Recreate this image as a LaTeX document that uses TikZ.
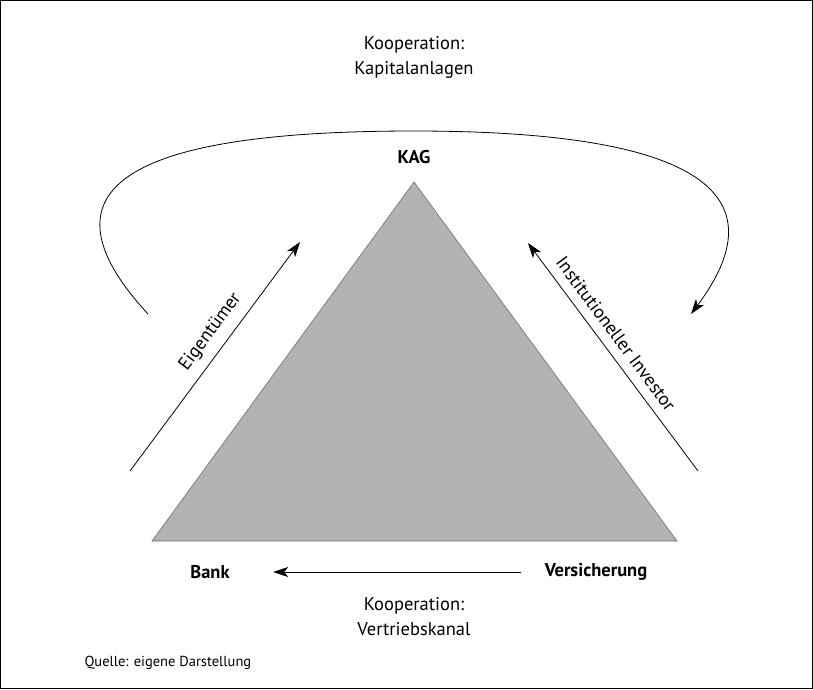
\documentclass[tikz,border=0pt]{standalone}
\usepackage{fontspec}
\setmainfont{PT Sans}
\usetikzlibrary{arrows.meta,positioning}

\definecolor{triGray}{HTML}{B3B3B3}
\definecolor{triEdge}{HTML}{6E6E6E}

\begin{document}
\begin{tikzpicture}[x=1pt,y=-1pt]
  \tikzset{
    kooptext/.style={draw=none, align=center, font=\fontsize{18.5}{25}\selectfont},
    actor/.style={draw=none, font=\fontsize{18.5}{22}\selectfont\bfseries},
    source/.style={draw=none, anchor=west, font=\fontsize{14.5}{18}\selectfont},
    myarrow/.style={-{Stealth[length=15pt,width=10pt,inset=4pt]}, line width=0.8pt},
    tri/.style={fill=triGray, draw=triEdge, line width=0.6pt},
  }

  \useasboundingbox (0,0) rectangle (813,689);
  \draw[line width=1pt] (0.5,0.5) rectangle (812.5,688.5);

  % triangle
  \coordinate (triL) at (152,541);
  \coordinate (triR) at (677,541);
  \coordinate (triT) at (414,182);
  \filldraw[tri] (triL) -- (triR) -- (triT) -- cycle;

  \node[actor] (kag) at (414,157) {KAG};
  \node[actor] (bank) at (210,572) {Bank};
  \node[actor] (vers) at (596,572) {Versicherung};

  \node[kooptext] (koopKap) at (414,57) {Kooperation:\\Kapitalanlagen};
  \node[kooptext] (koopVer) at (414,617) {Kooperation:\\Vertriebskanal};
  \node[source] (quelle) at (81,663) {Quelle: eigene Darstellung};

  % arrows
  \coordinate (eigS) at (130,471);
  \coordinate (eigE) at (300,242);
  \coordinate (invS) at (698,471);
  \coordinate (invE) at (528,243);
  \coordinate (kapS) at (148,314);
  \coordinate (kapE) at (691,314);

  \draw[myarrow] (eigS) -- node[kooptext, pos=0.56, above=6pt, sloped] (eigLbl) {Eigentümer} (eigE);
  \draw[myarrow] (invS) -- node[kooptext, pos=0.56, above=6pt, sloped] (invLbl) {Institutioneller Investor} (invE);
  \draw[myarrow] (vers.west) ++(-20,0) coordinate (verS) -- ([xshift=40pt]bank.east);
  \draw[myarrow] (kapS) .. controls (15,170) and (175,131) .. (414,131)
    .. controls (653,131) and (795,175) .. (kapE);

\end{tikzpicture}
\end{document}
